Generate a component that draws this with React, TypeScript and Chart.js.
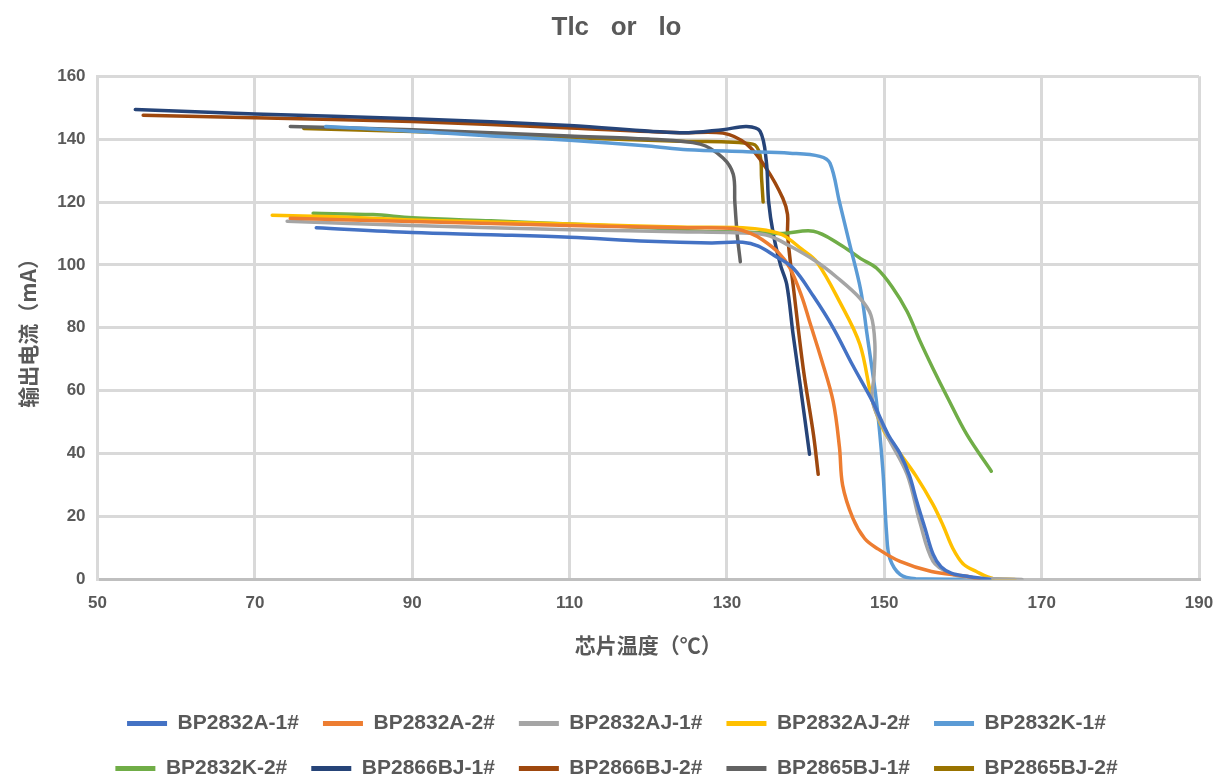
import React, { useEffect, useRef } from "react";
import { Chart, registerables } from "chart.js";

Chart.register(...registerables);

const TITLE = "Tlc   or   lo";
const X_TITLE = "芯片温度（℃）";
const Y_TITLE = "输出电流（mA）";
const X_TICKS = [50, 70, 90, 110, 130, 150, 170, 190];
const Y_TICKS = [0, 20, 40, 60, 80, 100, 120, 140, 160];

const SERIES_NAMES = [
  "BP2832A-1#", "BP2832A-2#", "BP2832AJ-1#", "BP2832AJ-2#", "BP2832K-1#",
  "BP2832K-2#", "BP2866BJ-1#", "BP2866BJ-2#", "BP2865BJ-1#", "BP2865BJ-2#",
];
const SERIES_COLORS = [
  "#4472C4", "#ED7D31", "#A5A5A5", "#FFC000", "#5B9BD5",
  "#70AD47", "#264478", "#9E480E", "#636363", "#997300",
];

const A1: [number, number][] = [[77.8,111.8],[90,110.3],[100,109.6],[110,108.8],[120,107.5],[128,107],[132,107.2],[134,106],[136,103],[138.4,99],[141,90],[143.5,80],[146,68],[148.5,56.6],[150.5,46],[152,40],[153.2,33],[154.1,25],[155.2,16],[156.2,8],[157.2,4],[158.5,2],[160.5,1],[163.4,0]];
const A2: [number, number][] = [[74.5,114.8],[90,113.8],[110,112.5],[125,111.8],[131,111.5],[133,110],[134.5,108],[136.5,104],[138,99],[139.5,90],[140.5,82],[142,70],[143.5,56.6],[144.3,42],[144.7,30],[146,19.5],[147.5,13],[149,10],[152,5.7],[156,2.5],[160.5,1],[162,0]];
const AJ1: [number, number][] = [[74.1,113.9],[90,112.5],[110,111.2],[125,110.5],[131,110.2],[135,109.5],[138,106],[141.4,101],[144,96],[146.9,89.4],[148.3,84],[148.8,75],[148.7,65],[148.5,56.6],[150.3,46],[152.9,33.4],[154.5,18.4],[156.2,5.7],[158.3,2],[161,0.5],[167.5,0]];
const AJ2: [number, number][] = [[72.2,115.8],[80,115.3],[90,114.3],[110,113],[125,112],[132,111.8],[135,111],[137.1,109.5],[139.5,105],[141.4,101],[144.3,88.4],[146.9,74.7],[148.5,56.6],[150,47],[152,40],[154,33],[156.2,23.8],[157.5,17],[158.7,9.9],[160,5],[161.7,2.5],[163.8,0.3],[166.6,0]];
const K1: [number, number][] = [[79,144],[90,142.5],[100,141],[110,139.6],[120,137.8],[125,136.6],[132.5,136],[138,135.5],[141.8,134.5],[143.1,132.3],[144.3,120],[145.6,106.6],[147,92],[147.8,78],[149,56.6],[149.8,35.3],[150.3,14.3],[150.7,6.7],[152,1.6],[154,0.2],[163.8,0]];
const K2: [number, number][] = [[77.4,116.4],[85,116],[90,115],[100,114],[110,113],[120,111.8],[126.6,110.7],[132,110.5],[137.1,110],[141,110.7],[144.3,106.6],[147,102],[149,99],[151,93],[152.9,85.2],[154.5,76],[156.2,67],[158,58],[160.5,46],[163.6,34.4]];
const BJ66_1: [number, number][] = [[54.8,149.4],[70,148],[90,146.5],[110,144.3],[124,142],[129.5,143],[132.5,144],[134.2,142.5],[135,133],[135.3,120],[135.9,109.7],[136.8,100],[137.6,93.8],[138.4,78],[139.3,62],[140.5,39.8]];
const BJ66_2: [number, number][] = [[55.8,147.6],[70,146.8],[90,145.6],[110,143.5],[124,142],[129.5,141.9],[132.5,138.4],[135,130.7],[137.1,121.2],[137.7,116],[137.7,110],[138.1,100],[138.4,93.8],[139.7,67],[141,46],[141.6,33.4]];
const BJ65_1: [number, number][] = [[74.5,144],[90,143],[110,141],[120,140],[126.6,138.4],[129.5,134],[130.8,128.8],[131,120],[131.3,109.7],[131.7,101]];
const BJ65_2: [number, number][] = [[76.2,143.4],[90,142.4],[110,140.5],[124,139.3],[133.3,138.4],[134.2,135],[134.4,127.5],[134.6,120]];

const SERIES_DATA = [A1, A2, AJ1, AJ2, K1, K2, BJ66_1, BJ66_2, BJ65_1, BJ65_2];

const TEXT = "#595959";
const LATIN = "'Liberation Sans', Arial, sans-serif";
const CJK = "'Noto Sans CJK SC', sans-serif";

export default function App() {
  const ref = useRef<HTMLCanvasElement | null>(null);
  useEffect(() => {
    if (!ref.current) return;
    const chart = new Chart(ref.current, {
      type: "scatter",
      data: {
        datasets: SERIES_NAMES.map((name, i) => ({
          label: name,
          data: SERIES_DATA[i].map(([x, y]) => ({ x, y })),
          showLine: true,
          borderColor: SERIES_COLORS[i],
          backgroundColor: SERIES_COLORS[i],
          borderWidth: 3.5,
          pointRadius: 0,
          tension: 0.35,
          borderCapStyle: "round",
          borderJoinStyle: "round",
        })),
      },
      options: {
        animation: false,
        responsive: true,
        maintainAspectRatio: false,
        layout: { padding: { left: 15, right: 0, top: 12, bottom: 0 } },
        plugins: {
          title: {
            display: true,
            text: TITLE,
            color: TEXT,
            font: { family: LATIN, size: 26, weight: "bold" },
            padding: { top: 0, bottom: 33 },
          },
          legend: {
            position: "bottom",
            labels: {
              color: TEXT,
              font: { family: LATIN, size: 21, weight: "bold" },
              boxWidth: 40,
              boxHeight: 5,
              padding: 24,
              generateLabels: (c: any) => {
                const items = (Chart.defaults.plugins.legend.labels as any).generateLabels(c);
                return items.map((it: any) => ({ ...it, lineWidth: 0, fillStyle: it.strokeStyle }));
              },
            },
          },
          tooltip: { enabled: false },
        },
        scales: {
          x: {
            type: "linear",
            min: 50,
            max: 190,
            afterBuildTicks: (axis: any) => { axis.ticks = X_TICKS.map((v) => ({ value: v })); },
            afterFit: (axis: any) => { axis.paddingRight = 19; },
            ticks: { color: TEXT, font: { family: LATIN, size: 17, weight: "bold" }, padding: 14 },
            grid: { color: "#d9d9d9", lineWidth: 3, drawTicks: false },
            border: { color: "#bfbfbf", width: 3 },
            title: {
              display: true,
              text: X_TITLE,
              color: TEXT,
              font: { family: CJK, size: 21, weight: "bold" },
              padding: { top: 5, bottom: 31 },
            },
          },
          y: {
            type: "linear",
            min: 0,
            max: 160,
            afterBuildTicks: (axis: any) => { axis.ticks = Y_TICKS.map((v) => ({ value: v })); },
            ticks: { color: TEXT, font: { family: LATIN, size: 17, weight: "bold" }, padding: 12 },
            grid: { color: "#d9d9d9", lineWidth: 3, drawTicks: false },
            border: { color: "#d9d9d9", width: 3 },
            title: {
              display: true,
              text: Y_TITLE,
              color: TEXT,
              font: { family: CJK, size: 21, weight: "bold" },
              padding: { top: 0, bottom: 5 },
            },
          },
        },
      },
    } as any);
    return () => chart.destroy();
  }, []);
  return (
    <div style={{ position: "fixed", left: 0, top: 0, width: 1218, height: 789 }}>
      <canvas ref={ref} />
    </div>
  );
}
